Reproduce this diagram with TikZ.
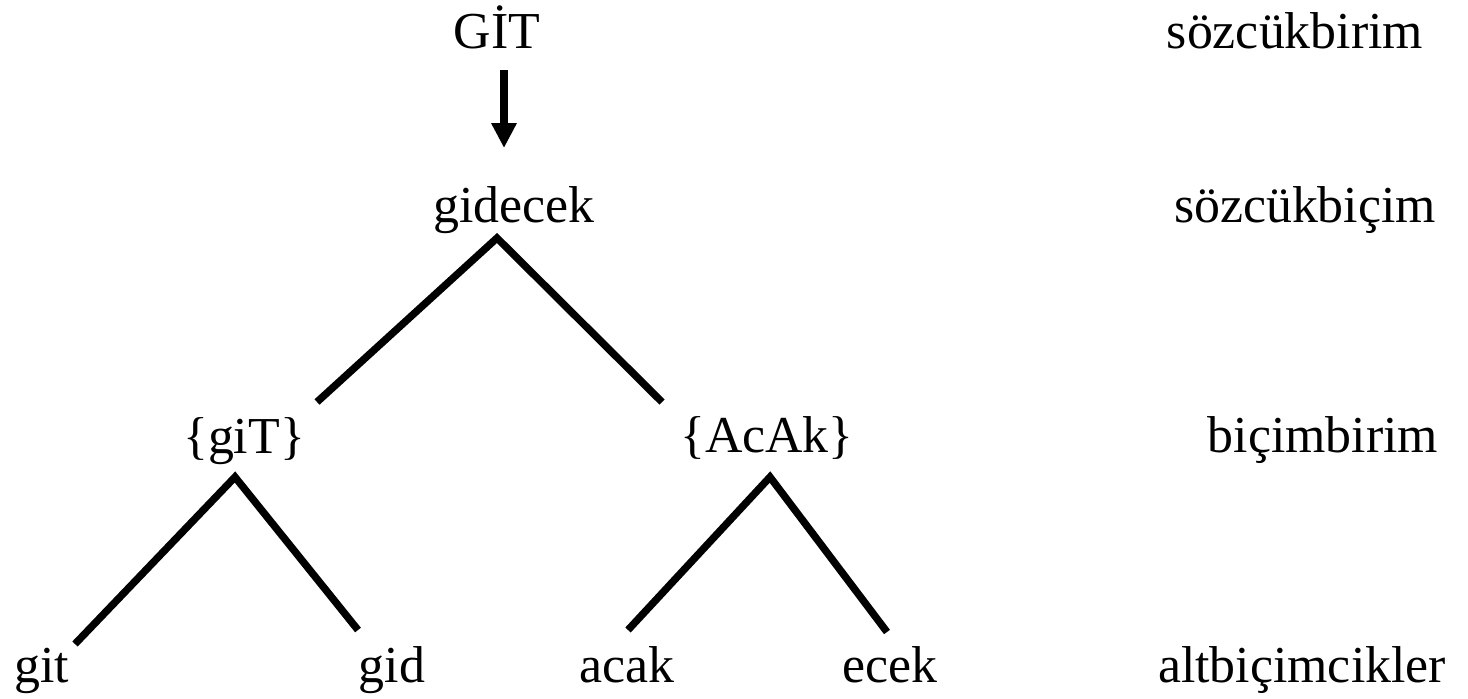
\documentclass[tikz,border=0pt]{standalone}
\usepackage{fontspec}
\setmainfont{Liberation Serif}
\usetikzlibrary{arrows.meta}

\tikzset{
  word/.style={anchor=base,inner sep=0pt,font=\fontsize{29.5}{34}\selectfont},
  level/.style={word},
  branch/.style={line width=4.2pt},
  derive/.style={line width=4.5pt,-{Triangle[width=0.48cm,length=0.5cm]}}
}

\begin{document}
\begin{tikzpicture}[x=0.02cm,y=-0.02cm]
\useasboundingbox (0,0) rectangle (1468,698);
            % Words
\node[word] (GIT)     at (497,48)  {GİT};
\node[word] (gidecek) at (514,222) {gidecek};
\node[word] (giT)     at (244,453) {\{giT\}};
\node[word] (AcAk)    at (767,452) {\{AcAk\}};
\node[word] (git)     at (42,682)  {git};
\node[word] (gid)     at (392,682) {gid};
\node[word] (acak)    at (627,682) {acak};
\node[word] (ecek)    at (890,682) {ecek};
            % Levels
\node[level] (lex)    at (1295,48)  {sözcükbirim};
\node[level] (form)   at (1305,222) {sözcükbiçim};
\node[level] (morph)  at (1323,452) {biçimbirim};
\node[level] (allo)   at (1302,682) {altbiçimcikler};
            % Branch points
\coordinate (GITbot) at (504,70);
\coordinate (gidtop) at (504,148);
\coordinate (gidbot) at (497,238);
\coordinate (giTtop) at (317,402);
\coordinate (AcAktop) at (662,402);
\coordinate (giTbot) at (235,477);
\coordinate (gittop) at (75,644);
\coordinate (gidtopb) at (358,630);
\coordinate (AcAkbot) at (770,477);
\coordinate (acaktop) at (628,630);
\coordinate (ecektop) at (887,632);
%Derivation
\draw[derive] (GITbot) -- (gidtop);
%Tree
\draw[branch] (giTtop) -- (gidbot) -- (AcAktop);
\draw[branch] (gittop) -- (giTbot) -- (gidtopb);
\draw[branch] (acaktop) -- (AcAkbot) -- (ecektop);
\end{tikzpicture}
\end{document}
